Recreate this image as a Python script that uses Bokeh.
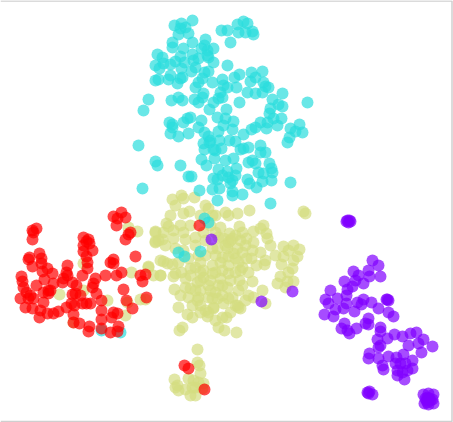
from bokeh.plotting import figure
from bokeh.embed import file_html
from bokeh.resources import INLINE
from bokeh.models import Range1d

cyan_x = [192,174,181,180,185,188,178,172,172,183,192,205,204,201,213,207,207,192,157,162,155,159,163,170,175,180,184,181,193,198,195,191,208,213,208,204,227,221,227,237,243,247,238,245,252,253,230,170,168,155,158,182,180,177,202,198,195,212,222,223,227,220,236,234,239,251,262,255,250,263,268,265,247,255,262,282,148,171,178,182,194,198,202,203,213,222,218,239,272,278,282,270,307,143,209,226,
281,273,269,267,260,255,251,243,277,266,290,295,299,302,289,287,169,172,190,187,183,170,172,178,188,201,198,204,208,210,203,204,209,217,218,225,233,223,232,219,229,235,221,215,213,240,243,248,260,260,265,138,155,157,180,188,191,142,201,206,214,225,233,248,252,255,269,271,258,263,272,218,227,236,235,213,217,222,228,232,230,219,212,199,247,249,256,262,271,290,232,232,242,217,270,204,208,178,184,200,101,120]
cyan_y = [20,25,23,28,27,33,34,42,47,48,42,39,45,48,48,50,55,54,54,57,65,68,63,64,61,56,62,68,60,58,67,71,57,62,71,72,65,30,30,24,21,23,32,32,31,34,42,75,79,80,79,77,78,83,78,82,87,82,79,85,87,92,87,77,74,72,71,77,81,82,87,86,92,93,92,93,99,100,97,100,99,102,97,93,102,97,98,102,99,104,106,108,102,110,109,109,
118,118,113,122,122,127,129,134,125,128,128,131,124,132,137,142,122,124,117,118,122,133,127,136,133,120,127,132,136,140,143,149,142,117,131,118,121,125,129,140,140,141,148,150,149,149,148,147,145,152,152,145,161,165,165,176,176,188,159,165,158,160,158,162,160,163,163,168,172,173,172,169,171,168,175,178,179,175,177,180,183,188,189,190,179,183,187,181,180,182,191,195,194,200,203,218,222,252,256,251,330,332]

purple_x = [347,349,348,350,346,372,378,368,353,358,369,380,344,355,363,352,347,330,346,325,337,328,346,357,363,361,371,387,386,388,378,335,343,354,324,333,388,393,344,368,365,368,341,347,349,356,380,380,394,402,377,387,380,378,410,416,423,408,418,421,432,369,368,378,388,382,383,396,403,395,400,405,412,412,397,402,407,397,404,367,369,368,372,427,428,426,429,430,427,425,432,211,292,261,423,433,428,424,433,428]
purple_y = [220,220,222,221,221,260,265,270,271,275,276,276,281,280,283,286,289,290,295,299,298,303,303,302,299,304,302,299,299,300,308,309,308,311,314,316,312,316,323,318,323,324,328,330,333,328,327,331,334,336,339,338,345,347,333,332,339,345,343,352,346,353,358,358,356,365,369,357,354,363,363,363,360,368,370,372,370,375,379,392,391,393,394,397,399,400,398,400,402,398,399,239,291,301,394,403,393,403,394,404]

red_x = [121,113,125,117,116,36,32,33,32,83,88,86,83,89,83,92,86,29,39,41,28,41,32,47,87,87,67,66,42,52,44,21,22,23,36,26,20,30,33,28,25,32,43,40,39,48,48,43,50,53,47,53,58,63,67,62,72,76,82,75,80,72,71,74,66,82,90,86,73,73,79,89,88,101,101,101,101,110,111,113,117,118,117,92,95,93,96,105,110,113,113,116,121,135,130,128,125,145,140,142,123,126,132,146,184,188,204,199]
red_y = [212,216,217,218,225,228,230,232,239,237,239,241,245,243,251,250,256,257,253,258,259,263,266,268,262,268,265,272,271,273,279,276,281,287,285,292,298,295,298,298,307,308,302,310,317,290,293,292,290,283,313,313,311,278,275,282,282,285,275,293,295,294,303,305,307,303,303,303,314,322,323,326,331,310,319,328,300,332,317,312,313,326,331,287,278,283,293,275,262,259,263,275,272,256,232,234,239,274,275,281,289,300,308,297,365,368,389,225]

yellow_x = [172,181,183,175,183,189,194,208,215,228,237,249,303,305,166,155,163,173,155,162,173,183,190,185,195,195,203,220,229,239,242,253,263,266,267,260,253,260,240,223,217,227,237,242,228,233,222,251,265,264,283,293,299,288,297,283,281,292,280,293,277,285,287,163,167,172,175,173,181,190,185,195,200,203,212,220,228,212,203,220,228,242,235,248,239,252,197,208,227,238,190,174,200,215,188,198,208,223,217,262,253,265,178,200,238,235,192,148,160,213,187,192,207,208,213,222,226,218,224,236,237,240,182,179,197,197,199,200,188,174,177,178,185,190,195,193,195,203,198,202,192,175,128,137,155,155,148,160,131,153,160,59,107,140,145,125,73,83,83,127,230,235,225,245,235,215,210,218,200,212,195,205,222,228,
210,218,232,246,252,246,238,228,212,205,198,188,178,190,200,215,222,230,242,248,232,222,210,197,185,180,205,215,212,200,205,225,170,158,240,256,270,275,293,288,183,175,165,168,180,245,230,215,200]
yellow_y = [199,195,198,205,213,211,197,208,215,215,213,210,211,213,223,231,232,230,242,239,238,232,225,239,237,245,232,227,233,226,232,231,225,233,238,228,242,252,240,238,248,248,248,252,242,253,257,258,260,264,246,245,249,250,256,256,264,268,276,281,283,287,281,261,263,264,273,276,272,268,278,267,262,270,265,262,265,273,277,278,273,267,272,272,280,281,282,285,287,290,288,289,290,292,297,297,297,303,298,290,297,303,307,305,307,305,305,267,275,307,314,317,316,312,308,317,317,327,330,332,305,308,327,330,349,362,365,373,378,379,385,390,389,395,395,380,387,383,382,388,387,387,227,231,232,241,266,260,272,275,275,294,300,299,299,315,322,290,263,302,240,235,245,245,258,255,280,285,280,298,290,310,295,298,
225,237,238,238,250,258,262,256,248,255,255,258,262,275,272,272,270,280,285,295,297,285,290,300,287,295,240,232,215,215,205,212,215,240,270,265,245,255,260,272,250,248,245,226,225,300,312,320,312]

CYAN = "#2adddd"
PURPLE = "#8000ff"
RED = "#ff0000"
YELLOW = "#d4dd80"

p = figure(width=453, height=422, toolbar_location=None, output_backend="svg",
           x_range=Range1d(0, 453), y_range=Range1d(422, 0), min_border=0,
           outline_line_color=None)
p.axis.visible = False
p.grid.visible = False
for xs, ys, c in [(yellow_x, yellow_y, YELLOW), (cyan_x, cyan_y, CYAN),
                  (purple_x, purple_y, PURPLE), (red_x, red_y, RED)]:
    n = min(len(xs), len(ys))
    p.scatter(xs[:n], ys[:n], size=12, fill_color=c, line_color=None, fill_alpha=0.7)
p.line([0, 451.5, 451.5, 0], [0.5, 0.5, 421, 421], line_color="#cfcfcf", line_width=1.5)
open("out.html", "w").write(file_html(p, INLINE))
print(len(cyan_x),len(cyan_y),len(purple_x),len(purple_y),len(red_x),len(red_y),len(yellow_x),len(yellow_y))
